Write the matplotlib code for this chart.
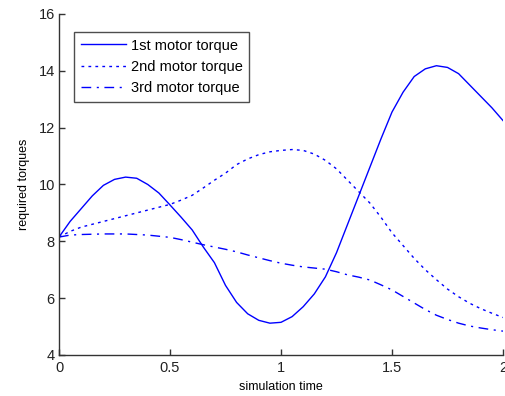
import matplotlib
matplotlib.use("Agg")
import matplotlib.pyplot as plt

plt.rcParams['font.family'] = ['Liberation Sans', 'DejaVu Sans']

time = [0.0, 0.05, 0.1, 0.15, 0.2, 0.25, 0.3, 0.35, 0.4, 0.45, 0.5, 0.55, 0.6, 0.65,
        0.7, 0.75, 0.8, 0.85, 0.9, 0.95, 1.0, 1.05, 1.1, 1.15, 1.2, 1.25, 1.3, 1.35,
        1.4, 1.45, 1.5, 1.55, 1.6, 1.65, 1.7, 1.75, 1.8, 1.85, 1.9, 1.95, 2.0]

torque1 = [8.15, 8.7, 9.15, 9.6, 9.97, 10.18, 10.26, 10.22, 10.0, 9.7, 9.28, 8.85, 8.4, 7.8,
           7.25, 6.45, 5.85, 5.45, 5.22, 5.12, 5.15, 5.35, 5.7, 6.15, 6.75, 7.6, 8.6, 9.6,
           10.6, 11.6, 12.55, 13.25, 13.8, 14.07, 14.18, 14.12, 13.9, 13.5, 13.1, 12.7, 12.25]

torque2 = [8.15, 8.35, 8.5, 8.6, 8.7, 8.8, 8.9, 9.0, 9.1, 9.2, 9.3, 9.45, 9.62, 9.88,
           10.15, 10.4, 10.7, 10.9, 11.05, 11.15, 11.2, 11.23, 11.2, 11.07, 10.85, 10.55, 10.15, 9.75,
           9.35, 8.85, 8.3, 7.85, 7.4, 7.0, 6.65, 6.32, 6.05, 5.82, 5.63, 5.47, 5.32]

torque3 = [8.15, 8.22, 8.24, 8.25, 8.26, 8.26, 8.26, 8.24, 8.22, 8.18, 8.14, 8.06, 7.97, 7.88,
           7.8, 7.72, 7.63, 7.52, 7.42, 7.32, 7.23, 7.16, 7.1, 7.06, 7.02, 6.93, 6.82, 6.74,
           6.64, 6.47, 6.29, 6.06, 5.83, 5.6, 5.4, 5.25, 5.12, 5.02, 4.95, 4.89, 4.84]

labels = ['1st motor torque', '2nd motor torque', '3rd motor torque']
xticks = [0, 0.5, 1, 1.5, 2]
xticklabels = ['0', '0.5', '1', '1.5', '2']
yticks = [4, 6, 8, 10, 12, 14, 16]

fig = plt.figure(figsize=(5.05, 3.96), dpi=100)
ax = fig.add_axes([59/505, 41/396, 444/505, 341/396])

c = '#0000ff'
ax.plot(time, torque1, color=c, lw=1.0, label=labels[0])
ax.plot(time, torque2, color=c, lw=1.0, linestyle=(0, (2, 3)), label=labels[1])
ax.plot(time, torque3, color=c, lw=1.0, linestyle=(0, (7, 4, 1.5, 4)), label=labels[2])

ax.set_xlim(0, 2)
ax.set_ylim(4, 16)
ax.set_xticks(xticks)
ax.set_xticklabels(xticklabels)
ax.set_yticks(yticks)
for s in ['top', 'right']:
    ax.spines[s].set_visible(False)
for s in ['left', 'bottom']:
    ax.spines[s].set_color('#333333')
    ax.spines[s].set_linewidth(1.0)
ax.tick_params(direction='in', length=4, width=1, color='#333333', labelsize=10.5,
               labelcolor='#222222')
ax.tick_params(axis='x', pad=4)
ax.tick_params(axis='y', pad=3)

ax.set_xlabel('simulation time', fontsize=9, labelpad=5)
ax.set_ylabel('required torques', fontsize=9, labelpad=6)

leg = ax.legend(loc='upper left', bbox_to_anchor=(15/444, 1 - 18/341), borderaxespad=0,
                fontsize=10.5, frameon=True, fancybox=False, handlelength=3.1,
                handletextpad=0.35, labelspacing=0.5, borderpad=0.45)
leg.get_frame().set_edgecolor('#222222')
leg.get_frame().set_linewidth(1.0)

fig.savefig('out.png', dpi=100)
